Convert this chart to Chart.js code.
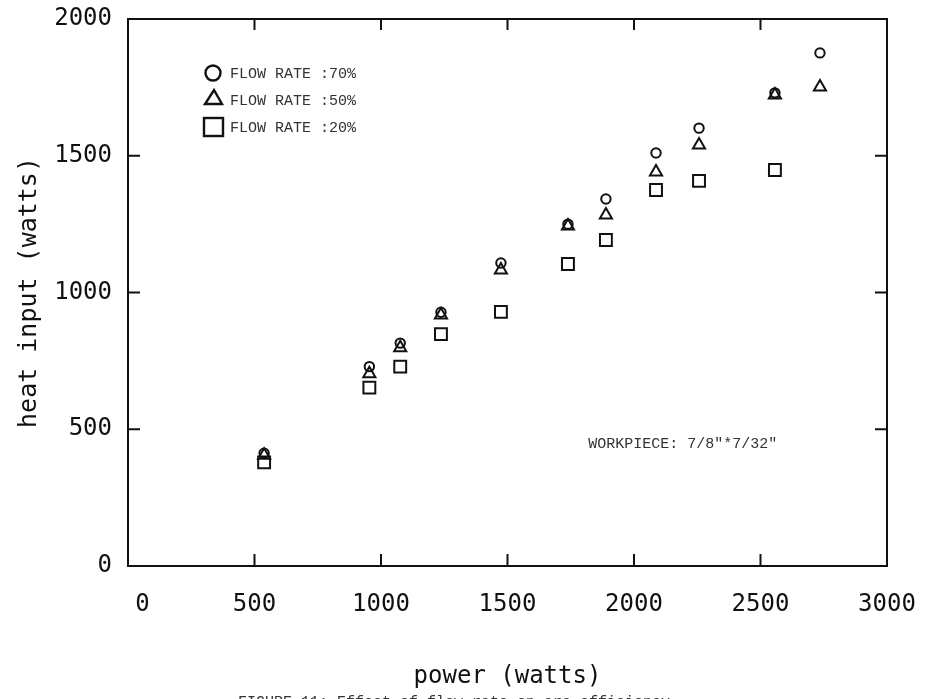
<!DOCTYPE html>
<html>
<head>
<meta charset="utf-8">
<script src="https://cdn.jsdelivr.net/npm/chart.js@4.4.1/dist/chart.umd.min.js"></script>
<style>
    html, body { margin: 0; padding: 0; background: #fff; }
    canvas { display: block; }
</style>
</head>
<body>
<canvas id="myChart" width="930" height="699"></canvas>
<script>
// values (power in watts -> heat input in watts)
const power = [538, 954, 1076, 1237, 1474, 1739, 1889, 2087, 2257, 2557, 2735];
const flow70 = [412, 729, 815, 928, 1108, 1250, 1342, 1510, 1601, 1730, 1876];
const flow50 = [405, 703, 798, 918, 1082, 1243, 1283, 1441, 1539, 1722, 1751];
const power20 = [538, 954, 1076, 1237, 1474, 1739, 1889, 2087, 2257, 2557];
const flow20 = [379, 652, 729, 848, 929, 1104, 1192, 1375, 1408, 1448];

const seriesLabels = ['FLOW RATE :70%', 'FLOW RATE :50%', 'FLOW RATE :20%'];
const xTitle = 'power (watts)';
const yTitle = 'heat input (watts)';
const note = 'WORKPIECE: 7/8"*7/32"';
const caption = 'FIGURE 11: Effect of flow rate on arc efficiency';

const ink = '#111';
const plotFont = '"DejaVu Sans Mono", monospace';
const typeFont = '"Liberation Mono", monospace';

function toPoints(xs, ys) {
    return xs.map((x, i) => ({ x: x, y: ys[i] }));
}

// frame, inward ticks, legend and notes
const plotFrame = {
    id: 'plotFrame',
    afterDraw(chart) {
        const { ctx, chartArea: a, scales: { x, y } } = chart;
        ctx.save();
        ctx.strokeStyle = ink;
        ctx.lineWidth = 2;
        ctx.strokeRect(a.left, a.top, a.right - a.left, a.bottom - a.top);

        ctx.beginPath();
        x.ticks.forEach(t => {
            const px = x.getPixelForValue(t.value);
            if (px < a.left + 2 || px > a.right - 2) return;
            ctx.moveTo(px, a.bottom);
            ctx.lineTo(px, a.bottom - 12);
            ctx.moveTo(px, a.top);
            ctx.lineTo(px, a.top + 11);
        });
        y.ticks.forEach(t => {
            const py = y.getPixelForValue(t.value);
            if (py < a.top + 2 || py > a.bottom - 2) return;
            ctx.moveTo(a.left, py);
            ctx.lineTo(a.left + 12, py);
            ctx.moveTo(a.right, py);
            ctx.lineTo(a.right - 12, py);
        });
        ctx.stroke();

        // legend
        const lx = a.left + 85;
        const ly = a.top + 54;
        ctx.lineWidth = 2.4;
        ctx.beginPath();
        ctx.arc(lx, ly, 7.5, 0, Math.PI * 2);
        ctx.stroke();
        ctx.beginPath();
        ctx.moveTo(lx + 1, ly + 17);
        ctx.lineTo(lx + 9, ly + 31);
        ctx.lineTo(lx - 8, ly + 31);
        ctx.closePath();
        ctx.stroke();
        ctx.strokeRect(lx - 9, ly + 45, 19, 18);

        ctx.fillStyle = '#333';
        ctx.font = '15px ' + typeFont;
        ctx.textBaseline = 'middle';
        ctx.textAlign = 'left';
        chart.data.datasets.forEach((ds, i) => {
            ctx.fillText(ds.label, lx + 17, ly + 1 + i * 27);
        });

        ctx.fillText(note, x.getPixelForValue(1819), y.getPixelForValue(445));

        ctx.textAlign = 'center';
        ctx.textBaseline = 'alphabetic';
        ctx.fillText(caption, 454, 706);
        ctx.restore();
    }
};

const markerStyle = {
    borderColor: ink,
    backgroundColor: 'rgba(0,0,0,0)',
    borderWidth: 2,
    showLine: false
};

new Chart(document.getElementById('myChart'), {
    type: 'scatter',
    data: {
        datasets: [
            { ...markerStyle, label: seriesLabels[0], data: toPoints(power, flow70), pointStyle: 'circle', pointRadius: 4.7 },
            { ...markerStyle, label: seriesLabels[1], data: toPoints(power, flow50), pointStyle: 'triangle', pointRadius: 7 },
            { ...markerStyle, label: seriesLabels[2], data: toPoints(power20, flow20), pointStyle: 'rect', pointRadius: 8.4 }
        ]
    },
    options: {
        responsive: false,
        animation: false,
        events: [],
        layout: { padding: { top: 19, right: 43, left: 0, bottom: 0 } },
        plugins: {
            legend: { display: false },
            tooltip: { enabled: false }
        },
        scales: {
            x: {
                type: 'linear',
                min: 0,
                max: 3000,
                grid: { display: false },
                border: { display: false },
                afterFit: s => {
                    s.height = 133;
                    s.paddingLeft = 0;
                    s.paddingRight = 0;
                },
                ticks: {
                    stepSize: 500,
                    maxRotation: 0,
                    padding: 16,
                    color: ink,
                    font: { family: plotFont, size: 24 },
                    callback: v => (v === 0 ? '  0' : String(v))
                },
                title: {
                    display: true,
                    text: xTitle,
                    color: ink,
                    font: { family: plotFont, size: 24 },
                    padding: { top: 0, bottom: 8 }
                }
            },
            y: {
                type: 'linear',
                min: 0,
                max: 2000,
                grid: { display: false },
                border: { display: false },
                afterFit: s => {
                    s.width = 128;
                    s.paddingTop = 0;
                    s.paddingBottom = 0;
                },
                ticks: {
                    stepSize: 500,
                    padding: 8,
                    color: ink,
                    font: { family: plotFont, size: 24 },
                    callback: v => String(v)
                },
                title: {
                    display: true,
                    text: yTitle,
                    color: ink,
                    font: { family: plotFont, size: 25 },
                    padding: { top: 14, bottom: 0 }
                }
            }
        }
    },
    plugins: [plotFrame]
});
</script>
</body>
</html>
